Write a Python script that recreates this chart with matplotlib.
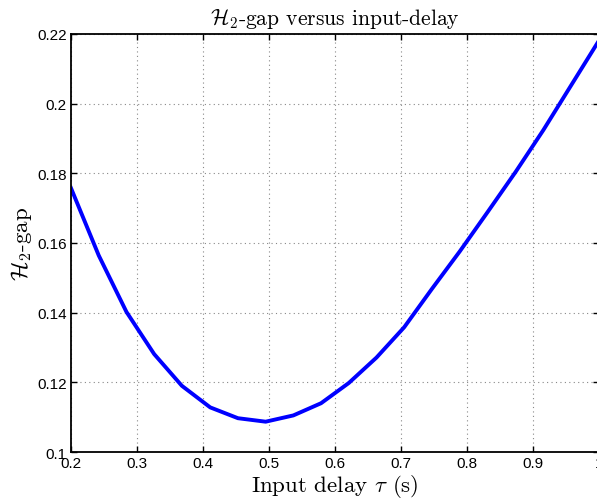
import numpy as np
import matplotlib
matplotlib.use("Agg")
import matplotlib.pyplot as plt
from matplotlib.ticker import FuncFormatter

# input delay (s) and corresponding H2-gap
tau = [0.2, 0.242, 0.284, 0.326, 0.368, 0.411, 0.453, 0.495, 0.537, 0.579,
       0.621, 0.663, 0.705, 0.747, 0.789, 0.832, 0.874, 0.916, 0.958, 1.0]
h2_gap = [0.1757, 0.1564, 0.1402, 0.1281, 0.1190, 0.1128, 0.1097, 0.1087,
          0.1105, 0.1140, 0.1198, 0.1271, 0.1358, 0.1468, 0.1575, 0.1690,
          0.1804, 0.1924, 0.2052, 0.2180]

x_ticks = [0.2, 0.3, 0.4, 0.5, 0.6, 0.7, 0.8, 0.9, 1.0]
y_ticks = [0.1, 0.12, 0.14, 0.16, 0.18, 0.2, 0.22]

plt.rcParams["mathtext.fontset"] = "cm"
plt.rcParams["font.family"] = ["Liberation Sans", "DejaVu Sans"]

fig = plt.figure(figsize=(5.97, 5.02), dpi=100)
ax = fig.add_axes([0.119, 0.0976, 0.884, 0.833])

ax.plot(tau, h2_gap, color="#0000ff", linewidth=2.8)

ax.set_xlim(0.2, 1.0)
ax.set_ylim(0.1, 0.22)
ax.set_xticks(x_ticks)
ax.set_yticks(y_ticks)
fmt = FuncFormatter(lambda v, p: f"{v:g}")
ax.xaxis.set_major_formatter(fmt)
ax.yaxis.set_major_formatter(fmt)
ax.tick_params(direction="in", length=4, width=1.0, top=True, right=True,
               labelsize=11, pad=3)
ax.grid(True, linestyle=(0, (1, 3)), color="#888888", linewidth=0.8)
for s in ax.spines.values():
    s.set_linewidth(1.3)

serif = {"fontname": "cmr10"}
ax.set_title(r"$\mathcal{H}_2$-gap versus input-delay", fontsize=15.5, pad=7, **serif)
ax.set_xlabel(r"Input delay $\tau$ (s)", fontsize=16.5, labelpad=1, **serif)
ax.set_ylabel(r"$\mathcal{H}_2$-gap", fontsize=16.5, labelpad=2, **serif)

fig.savefig("out.png", dpi=100)
